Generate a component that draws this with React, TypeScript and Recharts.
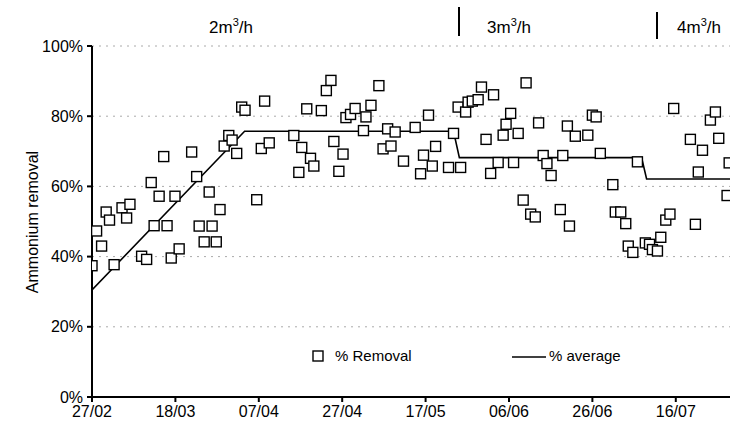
import { CartesianGrid, ComposedChart, Legend, Line, Scatter, XAxis, YAxis } from "recharts";

const FONT = '"Liberation Sans", Arial, sans-serif';

// days counted from 27/02
const dayTicks = [0, 20, 40, 60, 80, 100, 120, 140];
const dateLabels = ["27/02", "18/03", "07/04", "27/04", "17/05", "06/06", "26/06", "16/07"];
const pctTicks = [0, 20, 40, 60, 80, 100];

const removalDays = [
    0, 1.1, 2.3, 3.4, 4.2, 5.3, 7.2, 8.3, 9.1, 11.9, 13.1, 14.2, 14.9, 16.1, 17.2, 18.0, 19.0, 19.9, 20.9,
    23.9, 25.1, 25.7, 26.9, 28.1, 28.8, 29.8, 30.7, 31.7, 32.8, 33.6, 34.7, 35.9, 36.7, 39.5, 40.6, 41.4,
    42.5, 48.4, 49.6, 50.3, 51.5, 52.4, 53.2, 55.0, 56.2, 57.3, 58.0, 59.2, 60.2, 60.9, 62.0, 63.1, 65.1,
    65.7, 66.9, 68.8, 69.8, 70.9, 71.7, 72.7, 74.7, 77.5, 78.8, 79.5, 80.7, 81.6, 82.4, 85.5, 86.7, 87.8,
    88.4, 89.6, 90.2, 91.2, 92.6, 93.4, 94.5, 95.6, 96.3, 97.4, 98.6, 99.3, 100.4, 101.1, 102.2, 103.4,
    104.1, 105.2, 106.3, 107.1, 108.2, 109.1, 110.1, 112.3, 112.9, 114.0, 114.5, 115.9, 118.9, 120.0,
    120.9, 121.9, 124.9, 125.5, 126.8, 128.0, 128.6, 129.7, 130.8, 132.7, 133.7, 134.4, 135.6, 136.4,
    137.6, 138.6, 139.5, 143.5, 144.7, 145.4, 146.4, 148.3, 149.5, 150.3, 152.3, 152.8,
];
const removalValues = [
    37.4, 47.3, 43.0, 52.7, 50.4, 37.7, 53.9, 51.0, 54.9, 40.1, 39.2, 61.1, 48.8, 57.2, 68.5, 48.8, 39.6, 57.2, 42.2,
    69.8, 62.8, 48.7, 44.2, 58.4, 48.7, 44.2, 53.4, 71.5, 74.5, 73.2, 69.4, 82.6, 81.7, 56.2, 70.8, 84.3,
    72.4, 74.5, 64.0, 71.1, 82.1, 68.0, 65.8, 81.6, 87.3, 90.2, 72.8, 64.3, 69.2, 79.6, 80.5, 82.2, 75.9,
    79.8, 83.1, 88.7, 70.7, 76.4, 71.5, 75.5, 67.2, 76.8, 63.6, 68.9, 80.3, 65.8, 71.4, 65.4, 75.1, 82.6,
    65.4, 81.2, 84.0, 84.3, 84.7, 88.3, 73.4, 63.7, 86.1, 66.8, 74.6, 77.7, 80.8, 66.8, 75.1, 56.1,
    89.5, 52.1, 51.3, 78.1, 68.8, 66.5, 63.1, 53.4, 68.8, 77.2, 48.7, 74.3, 74.6, 80.3,
    79.8, 69.4, 60.5, 52.7, 52.7, 49.4, 43.0, 41.2, 67.0, 43.9, 43.5, 42.0, 41.6, 45.5,
    50.4, 52.1, 82.2, 73.4, 49.2, 64.1, 70.3, 78.9, 81.2, 73.7, 57.4, 66.7,
];

const avgDays = [0, 36.6, 86.7, 88.1, 131.8, 133, 153];
const avgValues = [30.5, 75.7, 75.7, 68.2, 68.2, 62.1, 62.1];

const renderSquare = (props: any) => (
    <rect x={props.cx - 5} y={props.cy - 5} width={10} height={10} fill="#fff" stroke="#000" strokeWidth={1.4} />
);

const renderYLabel = () => (
    <text x={32} y={222} transform="rotate(-90 32 222)" textAnchor="middle" dominantBaseline="central"
        fontSize={16} fontFamily={FONT} fill="#000">
        Ammonium removal
    </text>
);

const LegendBox = () => (
    <div style={{ position: "relative", width: 400, height: 20, fontFamily: FONT, fontSize: 15, color: "#000" }}>
        <svg style={{ position: "absolute", left: 0, top: 3 }} width={12} height={12}>
            <rect x={1} y={1} width={10} height={10} fill="#fff" stroke="#000" strokeWidth={1.4} />
        </svg>
        <span style={{ position: "absolute", left: 23, top: 0 }}>% Removal</span>
        <svg style={{ position: "absolute", left: 200, top: 9 }} width={34} height={2}>
            <line x1={0} y1={1} x2={34} y2={1} stroke="#000" strokeWidth={1.5} />
        </svg>
        <span style={{ position: "absolute", left: 237, top: 0 }}>% average</span>
    </div>
);

const Flow = ({ n }: { n: number }) => (
    <span>
        {n}m<sup style={{ fontSize: 11 }}>3</sup>/h
    </span>
);

export default function App() {
    const removalData = removalDays.map((d, i) => ({ day: d, removal: removalValues[i] }));
    const avgData = avgDays.map((d, i) => ({ day: d, avg: avgValues[i] }));
    const tickStyle = { fill: "#000", fontSize: 16, fontFamily: FONT };
    return (
        <div style={{ position: "absolute", left: 0, top: 0, width: 730, height: 439, background: "#fff", fontFamily: FONT }}>
            <ComposedChart width={730} height={439} margin={{ top: 46, right: 0, left: 0, bottom: 0 }}>
                <CartesianGrid vertical={false} stroke="#aaa" strokeDasharray="2 5" />
                <XAxis
                    type="number"
                    dataKey="day"
                    domain={[0, 153]}
                    ticks={dayTicks}
                    tickFormatter={(v, i) => dateLabels[i]}
                    height={42}
                    tick={tickStyle}
                    tickSize={5}
                    tickMargin={4}
                    axisLine={{ stroke: "#000", strokeWidth: 2 }}
                    tickLine={{ stroke: "#000", strokeWidth: 2 }}
                    allowDataOverflow
                />
                <YAxis
                    type="number"
                    domain={[0, 100]}
                    ticks={pctTicks}
                    tickFormatter={(v) => `${v}%`}
                    width={92}
                    tick={tickStyle}
                    tickSize={5}
                    tickMargin={4}
                    axisLine={{ stroke: "#000", strokeWidth: 2 }}
                    tickLine={{ stroke: "#000", strokeWidth: 2 }}
                    label={renderYLabel}
                />
                <Line
                    data={avgData}
                    dataKey="avg"
                    name="% average"
                    type="linear"
                    stroke="#000"
                    strokeWidth={1.6}
                    dot={false}
                    isAnimationActive={false}
                />
                <Scatter
                    data={removalData}
                    dataKey="removal"
                    name="% Removal"
                    shape={renderSquare}
                    isAnimationActive={false}
                />
                <Legend
                    layout="vertical"
                    verticalAlign="middle"
                    align="center"
                    content={() => <LegendBox />}
                    wrapperStyle={{ left: 312, top: 347, width: 400, height: 20 }}
                />
            </ComposedChart>
            <div style={{ position: "absolute", left: 209, top: 16, fontSize: 17 }}><Flow n={2} /></div>
            <div style={{ position: "absolute", left: 487, top: 16, fontSize: 17 }}><Flow n={3} /></div>
            <div style={{ position: "absolute", left: 677, top: 16, fontSize: 17 }}><Flow n={4} /></div>
            <div style={{ position: "absolute", left: 458, top: 7, width: 1.5, height: 29, background: "#000" }} />
            <div style={{ position: "absolute", left: 656, top: 12, width: 1.5, height: 27, background: "#000" }} />
        </div>
    );
}
